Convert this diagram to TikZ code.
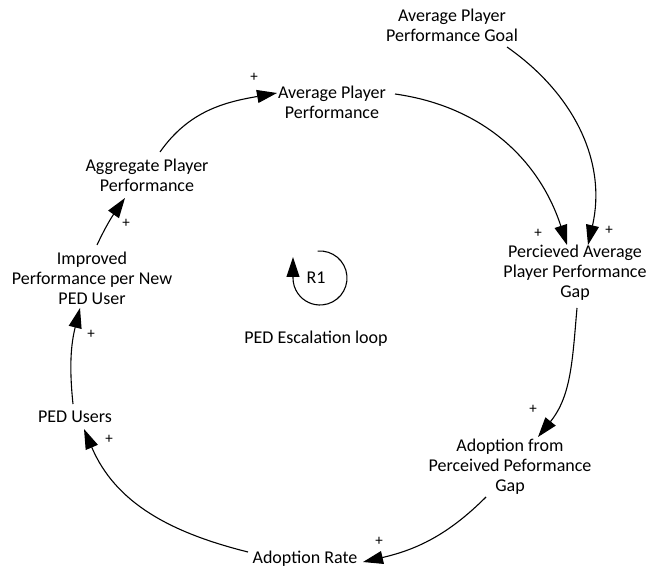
\documentclass[tikz,border=0pt]{standalone}
\usepackage{fontspec}
\setmainfont{Carlito}
\usetikzlibrary{arrows.meta,calc}
\begin{document}
\begin{tikzpicture}[x=1pt,y=1pt,
  var/.style={align=center, inner sep=1pt, font=\fontsize{18}{20}\selectfont},
  pol/.style={inner sep=0pt, font=\fontsize{15}{15}\selectfont},
  link/.style={line width=1.1pt, -{Triangle[length=20pt,width=13pt]}}]
\useasboundingbox (0,0) rectangle (653,571);
% variables
\node[var] (goal)  at (452,546) {Average Player\\Performance Goal};
\node[var] (avg)   at (332,469) {Average Player\\Performance};
\node[var] (agg)   at (147,396) {Aggregate Player\\Performance};
\node[var] (imp)   at (92,293)  {Improved\\Performance per New\\PED User};
\node[var] (ped)   at (75,154)  {PED Users};
\node[var] (rate)  at (305,12)  {Adoption Rate};
\node[var] (adopt) at (510,104) {Adoption from\\Perceived Peformance\\Gap};
\node[var] (gap)   at (575,298) {Percieved Average\\Player Performance\\Gap};
\node[var] (r1)    at (316,293) {R1};
\node[var] (loop)  at (316,232) {PED Escalation loop};
% links
\draw[link] ($(agg)+(13,23)$)    to[out=55,in=190]  ($(avg)+(-55,9)$);
\draw[link] ($(imp)+(5,33)$)     to[out=65,in=235]  ($(agg)+(-22,-23)$);
\draw[link] ($(ped)+(-2,13)$)    to[out=96,in=256]  ($(imp)+(-12,-30)$);
\draw[link] ($(rate)+(-57,7)$)   to[out=166,in=293] ($(ped)+(9,-12)$);
\draw[link] ($(adopt)+(-24,-30)$) to[out=225,in=13] ($(rate)+(58,-3)$);
\draw[link] ($(gap)+(2,-35)$)    to[out=265,in=51]  ($(adopt)+(28,30)$);
\draw[link] ($(avg)+(63,8)$)     to[out=-8,in=108]  ($(gap)+(-8,28)$);
\draw[link] ($(goal)+(55,-22)$)  to[out=-35,in=77]  ($(gap)+(13,28)$);
% polarities
\node[pol] (p1) at (254,494) {+};
\node[pol] (p2) at (126,348) {+};
\node[pol] (p3) at (91,237)  {+};
\node[pol] (p4) at (109,132) {+};
\node[pol] (p5) at (379,30)  {+};
\node[pol] (p6) at (533,162) {+};
\node[pol] (p7) at (538,338) {+};
\node[pol] (p8) at (609,341) {+};
% loop symbol
\draw[link] ($(r1)+(4,0)$) ++(95:27) arc[start angle=95,end angle=-180,radius=27] -- ++(0,21);
\end{tikzpicture}
\end{document}
